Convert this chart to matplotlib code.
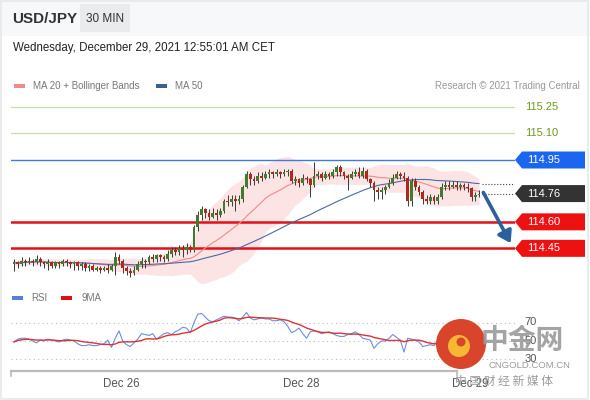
import numpy as np
import pandas as pd
import matplotlib
matplotlib.use('Agg')
import matplotlib.pyplot as plt
from matplotlib.patches import Rectangle, Polygon, Ellipse
from matplotlib.lines import Line2D
from matplotlib import transforms

# 30 min USD/JPY candles (open of each bar = previous close)
first_open = 114.36
closes = [114.37, 114.36, 114.38, 114.37, 114.38, 114.37, 114.39, 114.37, 114.36, 114.37,
          114.35, 114.37, 114.36, 114.38, 114.37, 114.36, 114.37, 114.35, 114.36, 114.34,
          114.35, 114.33, 114.34, 114.33, 114.34, 114.33, 114.35, 114.40, 114.38, 114.34,
          114.32, 114.31, 114.33, 114.36, 114.38, 114.37, 114.40, 114.39, 114.41, 114.40,
          114.39, 114.42, 114.44, 114.43, 114.45, 114.44, 114.46, 114.44, 114.57, 114.64,
          114.67, 114.65, 114.63, 114.65, 114.64, 114.66, 114.72, 114.71, 114.73, 114.72,
          114.73, 114.80, 114.87, 114.84, 114.83, 114.86, 114.85, 114.87, 114.88, 114.87,
          114.88, 114.87, 114.88, 114.89, 114.83, 114.84, 114.82, 114.85, 114.84, 114.81,
          114.86, 114.87, 114.85, 114.87, 114.86, 114.88, 114.91, 114.88, 114.86, 114.85,
          114.87, 114.88, 114.86, 114.89, 114.84, 114.82, 114.78, 114.77, 114.78, 114.80,
          114.82, 114.85, 114.87, 114.86, 114.85, 114.72, 114.83, 114.80, 114.77, 114.73,
          114.72, 114.74, 114.72, 114.74, 114.80, 114.81, 114.80, 114.81, 114.80, 114.81,
          114.80, 114.79, 114.74, 114.75, 114.76]
highs = [114.39, 114.38, 114.40, 114.39, 114.40, 114.39, 114.41, 114.40, 114.38, 114.39,
         114.38, 114.38, 114.38, 114.39, 114.39, 114.38, 114.38, 114.38, 114.37, 114.37,
         114.36, 114.36, 114.35, 114.35, 114.35, 114.36, 114.36, 114.43, 114.42, 114.39,
         114.35, 114.34, 114.35, 114.38, 114.40, 114.39, 114.41, 114.42, 114.42, 114.42,
         114.41, 114.44, 114.46, 114.46, 114.47, 114.47, 114.48, 114.47, 114.58, 114.66,
         114.69, 114.68, 114.67, 114.68, 114.67, 114.68, 114.73, 114.75, 114.75, 114.75,
         114.75, 114.81, 114.89, 114.88, 114.86, 114.88, 114.88, 114.89, 114.90, 114.89,
         114.90, 114.89, 114.90, 114.90, 114.90, 114.86, 114.85, 114.87, 114.86, 114.85,
         114.94, 114.89, 114.88, 114.89, 114.88, 114.90, 114.92, 114.92, 114.89, 114.87,
         114.89, 114.90, 114.91, 114.91, 114.90, 114.85, 114.83, 114.80, 114.80, 114.81,
         114.84, 114.87, 114.89, 114.88, 114.88, 114.86, 114.85, 114.85, 114.81, 114.78,
         114.75, 114.76, 114.75, 114.76, 114.82, 114.83, 114.83, 114.83, 114.83, 114.82,
         114.82, 114.82, 114.80, 114.77, 114.78]
lows = [114.32, 114.34, 114.35, 114.35, 114.36, 114.35, 114.36, 114.35, 114.34, 114.33,
        114.34, 114.34, 114.34, 114.35, 114.35, 114.34, 114.33, 114.33, 114.33, 114.32,
        114.32, 114.32, 114.32, 114.31, 114.32, 114.31, 114.32, 114.30, 114.36, 114.31,
        114.30, 114.29, 114.30, 114.32, 114.34, 114.34, 114.36, 114.37, 114.37, 114.38,
        114.37, 114.38, 114.40, 114.41, 114.41, 114.40, 114.42, 114.43, 114.43, 114.55,
        114.61, 114.62, 114.61, 114.62, 114.61, 114.63, 114.65, 114.69, 114.69, 114.66,
        114.70, 114.71, 114.79, 114.81, 114.81, 114.82, 114.83, 114.84, 114.85, 114.85,
        114.86, 114.85, 114.86, 114.86, 114.82, 114.81, 114.80, 114.81, 114.82, 114.74,
        114.80, 114.84, 114.83, 114.84, 114.84, 114.85, 114.86, 114.86, 114.84, 114.78,
        114.84, 114.86, 114.85, 114.85, 114.83, 114.80, 114.72, 114.73, 114.73, 114.76,
        114.79, 114.81, 114.84, 114.84, 114.83, 114.69, 114.69, 114.78, 114.75, 114.70,
        114.70, 114.70, 114.70, 114.70, 114.73, 114.78, 114.78, 114.79, 114.78, 114.78,
        114.78, 114.77, 114.72, 114.72, 114.74]

rsi = [49, 52, 53, 53, 52, 50, 48, 51, 50, 52,
       51, 50, 49, 51, 52, 51, 50, 47, 45, 45,
       46, 45, 45, 46, 47, 51, 43, 53, 61, 50,
       46, 44, 48, 52, 58, 57, 56, 58, 52, 55,
       58, 59, 57, 60, 62, 65, 64, 59, 70, 79,
       80, 76, 72, 71, 73, 75, 77, 76, 76, 75,
       72, 76, 81, 75, 73, 74, 75, 74, 74, 72,
       72, 73, 71, 66, 59, 61, 64, 58, 53, 60,
       61, 60, 58, 59, 60, 58, 56, 55, 55, 57,
       58, 60, 57, 53, 52, 51, 42, 47, 50, 50,
       53, 57, 54, 51, 38, 53, 52, 51, 49, 44,
       45, 46, 45, 49, 52, 53, 52, 52, 53, 52,
       51, 50, 46, 47, 47]

day_ticks = [28.5, 76.5, 121.6]
day_labels = ['Dec 26', 'Dec 28', 'Dec 29']

levels_green = [115.25, 115.10]
level_blue = 114.95
levels_red = [114.60, 114.45]
last_price = closes[-1]

plt.rcParams['font.family'] = ['Liberation Sans', 'DejaVu Sans']

W, H = 590, 400
fig = plt.figure(figsize=(W / 100, H / 100), dpi=100)
fig.patch.set_facecolor('white')


def fx(px):
    return px / W


def fy(py):
    return 1 - py / H


# header strip and frame
fig.patches.append(Rectangle((0, fy(36)), 1, 36 / H, transform=fig.transFigure,
                             facecolor='#f7f8f9', edgecolor='none', zorder=0))
fig.patches.append(Rectangle((fx(80), fy(32)), fx(50), 28 / H, transform=fig.transFigure,
                             facecolor='#e9ebed', edgecolor='none', zorder=1))
fig.patches.append(Rectangle((fx(1), fy(399)), fx(587), 398 / H, transform=fig.transFigure,
                             facecolor='none', edgecolor='#e8e8e8', lw=1.2, zorder=1))

fig.text(fx(12), fy(19), 'USD/JPY', fontsize=11, fontweight='bold', color='#333333', va='center')
fig.text(fx(105), fy(19), '30 MIN', fontsize=8.5, color='#333333', va='center', ha='center')
fig.text(fx(13), fy(48), 'Wednesday, December 29, 2021 12:55:01 AM CET', fontsize=8.3,
         color='#222222', va='center')

# legends
fig.patches.append(Rectangle((fx(14), fy(88)), fx(11), 4 / H, transform=fig.transFigure,
                             facecolor='#f08a8a', edgecolor='none'))
fig.text(fx(33), fy(86), 'MA 20 + Bollinger Bands', fontsize=7, color='#777777', va='center')
fig.patches.append(Rectangle((fx(156), fy(88)), fx(11), 4 / H, transform=fig.transFigure,
                             facecolor='#3c5f93', edgecolor='none'))
fig.text(fx(175), fy(86), 'MA 50', fontsize=7, color='#777777', va='center')
fig.text(fx(580), fy(86), 'Research \u00a9 2021 Trading Central', fontsize=7, color='#999999',
         va='center', ha='right')

fig.patches.append(Rectangle((fx(12), fy(300)), fx(11), 4 / H, transform=fig.transFigure,
                             facecolor='#5b7fd6', edgecolor='none'))
fig.text(fx(31), fy(298), 'RSI', fontsize=7, color='#777777', va='center')
fig.patches.append(Rectangle((fx(61), fy(300)), fx(11), 4 / H, transform=fig.transFigure,
                             facecolor='#e01010', edgecolor='none'))
fig.text(fx(82), fy(298), '9MA', fontsize=7, color='#777777', va='center')

# ---- price panel ----
px_per_unit = 176.7
ymax = level_blue + (160 - 95) / px_per_unit
ymin = level_blue - (285 - 160) / px_per_unit
xmin = (11 - 14) / 3.75
xmax = (515 - 14) / 3.75

ax = fig.add_axes([fx(11), fy(285), fx(504), 190 / H])
ax.set_xlim(xmin, xmax)
ax.set_ylim(ymin, ymax)
ax.axis('off')

idx = np.arange(len(closes))
c = np.array(closes)
o = np.array([first_open] + closes[:-1])
hi = np.array(highs)
lo = np.array(lows)

s = pd.Series(c)
ma20 = s.rolling(20, min_periods=1).mean()
sd20 = s.rolling(20, min_periods=2).std().bfill()
ma50 = s.rolling(50, min_periods=1).mean()

ax.fill_between(idx, ma20 - 2 * sd20, ma20 + 2 * sd20, color='#fbdcdc', alpha=0.75, lw=0, zorder=1)
ax.plot(idx, ma20, color='#f08a8a', lw=0.8, zorder=2)
ax.plot(idx, ma50, color='#4a6aa0', lw=0.8, zorder=2)

for lv in levels_green:
    ax.axhline(lv, color='#c9dcaa', lw=0.9, zorder=1)
ax.axhline(level_blue, color='#3d7be0', lw=1.0, zorder=1)
for lv in levels_red:
    ax.axhline(lv, color='#e3101a', lw=1.8, zorder=1)

up = c >= o
body = np.maximum(np.abs(c - o), 0.004)
ax.vlines(idx, lo, hi, color='#3a3a3a', lw=0.7, zorder=3)
ax.bar(idx[up], body[up], bottom=np.minimum(o, c)[up], width=0.75, color='#3e7d2a', zorder=4)
ax.bar(idx[~up], body[~up], bottom=np.minimum(o, c)[~up], width=0.75, color='#b3261e', zorder=4)

# dotted lines to the right labels
ax.plot([idx[-1] + 0.8, xmax], [last_price, last_price], ls=':', color='#444444', lw=0.8)
ax.plot([idx[-1] + 0.8, xmax], [ma50.iloc[-1], ma50.iloc[-1]], ls=':', color='#444444', lw=0.8)

# forecast arrow
ax.annotate('', xy=(132.8, 114.465), xytext=(124.8, 114.78),
            arrowprops=dict(arrowstyle='-|>,head_width=0.45,head_length=0.7',
                            color='#2b5f9e', lw=2.6), zorder=6)

# price tags
tr = transforms.blended_transform_factory(fig.transFigure, ax.transData)
hh = 8.5 / px_per_unit


def tag(price, color, txt_color='white'):
    pts = [(fx(515), price), (fx(522), price + hh), (fx(585), price + hh),
           (fx(585), price - hh), (fx(522), price - hh)]
    fig.patches.append(Polygon(pts, closed=True, transform=tr, facecolor=color,
                               edgecolor='none', zorder=5))
    fig.text(fx(527), price, f'{price:.2f}', transform=tr, fontsize=8, color=txt_color,
             va='center', ha='left', zorder=6)


for lv in levels_green:
    fig.text(fx(525), lv, f'{lv:.2f}', transform=tr, fontsize=8, color='#6b9b1e',
             va='center', ha='left')
tag(level_blue, '#1a66f0')
tag(last_price, '#333333')
for lv in levels_red:
    tag(lv, '#ee1111')

# ---- RSI panel ----
ax2 = fig.add_axes([fx(11), fy(371), fx(504), 71 / H])
r_lo = 50 - 30 / 0.92
r_hi = 50 + 41 / 0.92
ax2.set_xlim(xmin, xmax)
ax2.set_ylim(r_lo, r_hi)
for sp in ax2.spines.values():
    sp.set_visible(False)
ax2.set_yticks([])
ax2.set_xticks(day_ticks)
ax2.set_xticklabels(day_labels)
ax2.tick_params(axis='x', length=0, pad=5, labelsize=8.3, labelcolor='#555555')

for g in [70, 50, 30]:
    ax2.axhline(g, color='#bbbbbb', lw=0.8, ls=(0, (1, 3)))
fig.text(fx(531), fy(322), '70', fontsize=8, color='#555555', va='center', ha='center')
fig.text(fx(531), fy(341), '50', fontsize=8, color='#555555', va='center', ha='center', zorder=9)
fig.text(fx(531), fy(359), '30', fontsize=8, color='#555555', va='center', ha='center', zorder=9)

r = pd.Series(rsi, dtype=float)
ax2.plot(idx, r, color='#6a8ee0', lw=0.8)
ax2.plot(idx, r.rolling(9, min_periods=1).mean(), color='#dd3333', lw=1.0)

# bottom axis line with end ticks
fig.lines.append(Line2D([fx(11), fx(457)], [fy(371), fy(371)], transform=fig.transFigure,
                        color='#bbbbbb', lw=1.6))
for xe in (11, 457):
    fig.lines.append(Line2D([fx(xe), fx(xe)], [fy(371), fy(376)], transform=fig.transFigure,
                            color='#bbbbbb', lw=1.2))

# watermark
fig.patches.append(Ellipse((fx(461), fy(344)), 50 / W, 50 / H, transform=fig.transFigure,
                           facecolor='#d8452a', edgecolor='none', zorder=10))
fig.patches.append(Ellipse((fx(459), fy(346)), 22 / W, 22 / H, transform=fig.transFigure,
                           facecolor='#f7b733', edgecolor='none', zorder=11))
fig.patches.append(Ellipse((fx(461), fy(342)), 9 / W, 9 / H, transform=fig.transFigure,
                           facecolor='#d8452a', edgecolor='none', zorder=12))
fig.text(fx(522), fy(341), '中金网', fontsize=20, fontweight='bold', color='#9a9a9a', alpha=0.9,
         ha='center', va='center', family=['Noto Sans CJK SC', 'DejaVu Sans'], zorder=12)
fig.text(fx(529), fy(366), 'CNGOLD.COM.CN', fontsize=6.8, color='#9a9a9a', ha='center',
         va='center', zorder=12)
fig.text(fx(504), fy(381), '中 国 财 经 新 媒 体', fontsize=8.5, color='#9a9a9a', ha='center',
         va='center', family=['Noto Sans CJK SC', 'DejaVu Sans'], zorder=12)

fig.savefig('out.png', dpi=100, facecolor='white')
